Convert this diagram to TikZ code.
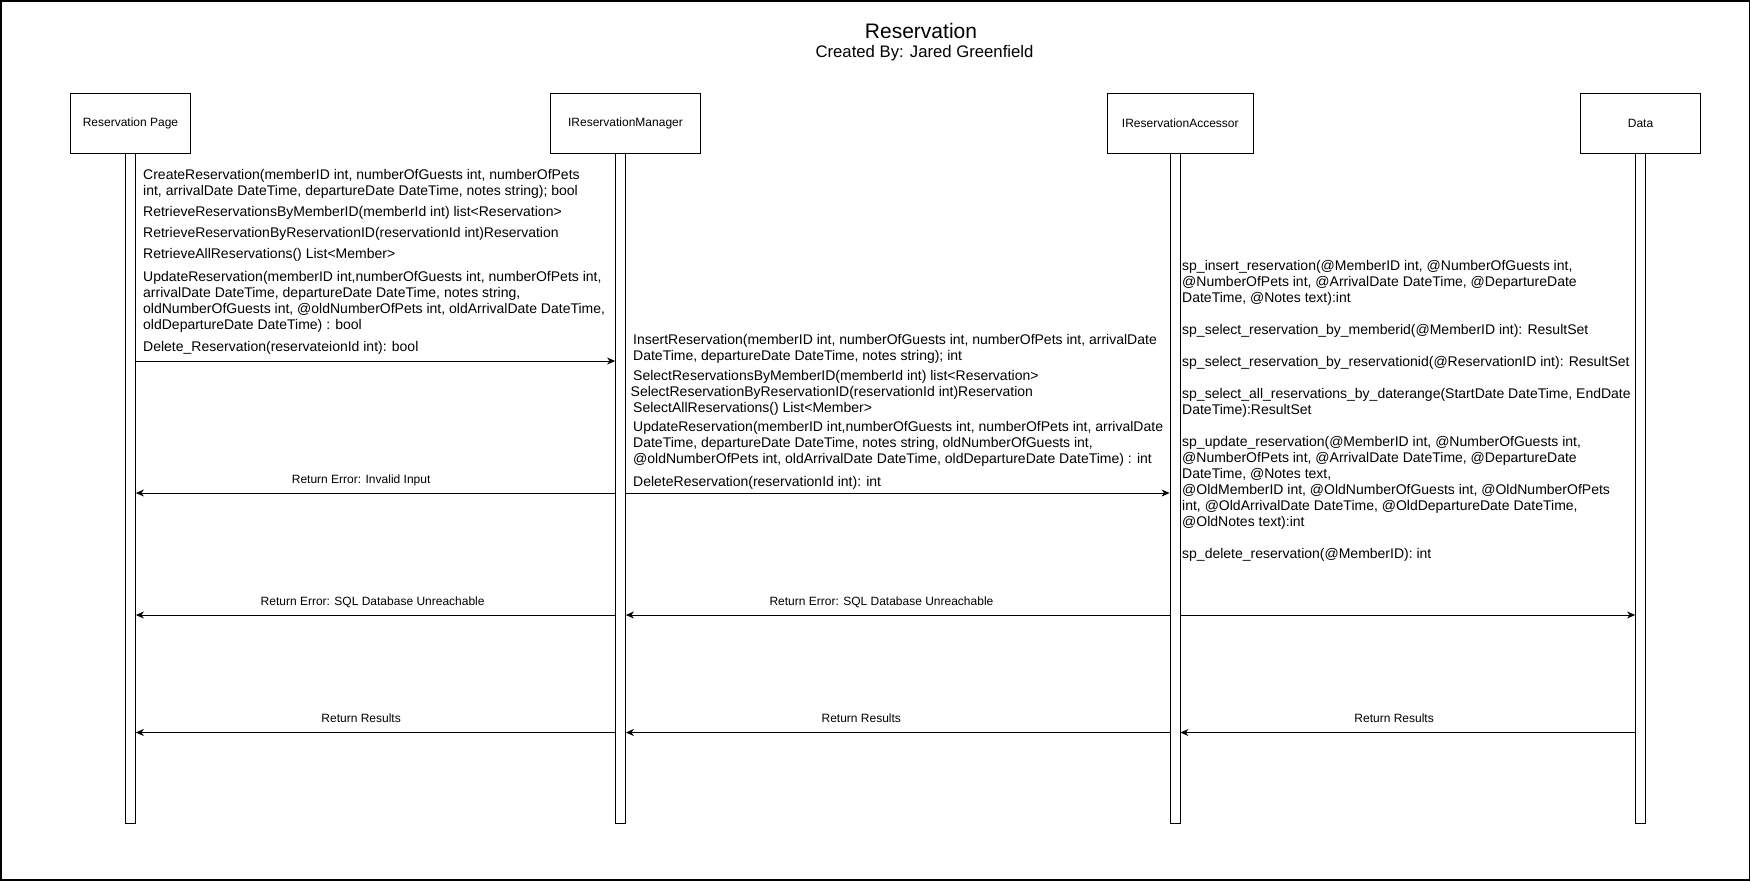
\documentclass[tikz,border=0pt]{standalone}
\usepackage{fontspec}
\setmainfont{Liberation Sans}
\usetikzlibrary{arrows.meta}

\tikzset{
  actor/.style={draw, line width=0.8pt, minimum width=120pt, minimum height=60pt, inner sep=0pt, font=\fontsize{12}{14}\selectfont},
  life/.style={draw, line width=0.8pt, minimum width=10pt, minimum height=670pt, inner sep=0pt, anchor=north},
  call/.style={anchor=west, align=left, inner sep=0pt, yshift=-1pt, font=\fontsize{14}{16}\selectfont},
  msg/.style={line width=0.8pt, -{Stealth[length=8pt,width=7pt,inset=2.5pt]}},
  ret/.style={pos=0.53, anchor=base, yshift=10pt, inner sep=0pt, font=\fontsize{12}{14}\selectfont}
}

\begin{document}
\begin{tikzpicture}[x=1pt,y=-1pt]
            \useasboundingbox (0,0) rectangle (1751,881);
            \draw[line width=1.5pt] (0.75,0.75) rectangle (1749.5,880);

            % Title
            \node (title) at (921,31) {\fontsize{21}{25}\selectfont Reservation};
            \node (author) at (924.5,53) {\fontsize{16.7}{19}\selectfont Created By: Jared Greenfield};

            % Actor boxes
            \node[actor] (page) at (130.5,123.3) {Reservation Page};
            \node[actor, minimum width=150pt] (man) at (625.5,123.3) {IReservationManager};
            \node[actor, minimum width=146pt] (acc) at (1180.3,123.3) {IReservationAccessor};
            \node[actor] (data) at (1640.5,123.3) {Data};

            % Lifelines
            \node[life] (pagel) at (130.5,153.3) {};
            \node[life] (manl) at (620.5,153.3) {};
            \node[life] (accl) at (1175,153.3) {};
            \node[life] (datal) at (1640.5,153.3) {};

            % Reservation Page calls
            \node[call] (create) at (143,183) {CreateReservation(memberID int, numberOfGuests int, numberOfPets\\int, arrivalDate DateTime, departureDate DateTime, notes string); bool};
            \node[call] (bymember) at (143,212) {RetrieveReservationsByMemberID(memberId int) list<Reservation>};
            \node[call] (byres) at (143,233) {RetrieveReservationByReservationID(reservationId int)Reservation};
            \node[call] (all) at (143,254) {RetrieveAllReservations() List<Member>};
            \node[call] (update) at (143,301) {UpdateReservation(memberID int,numberOfGuests int, numberOfPets int,\\arrivalDate DateTime, departureDate DateTime, notes string,\\oldNumberOfGuests int, @oldNumberOfPets int, oldArrivalDate DateTime,\\oldDepartureDate DateTime) : bool};
            \node[call] (delete) at (143,347) {Delete\_Reservation(reservateionId int): bool};

            % IReservationManager calls
            \node[call] (minsert) at (633,347.5) {InsertReservation(memberID int, numberOfGuests int, numberOfPets int, arrivalDate\\DateTime, departureDate DateTime, notes string); int};
            \node[call] (mbymember) at (633,376) {SelectReservationsByMemberID(memberId int) list<Reservation>};
            \node[call] (mbyres) at (630.5,392) {SelectReservationByReservationID(reservationId int)Reservation};
            \node[call] (mall) at (633,408) {SelectAllReservations() List<Member>};
            \node[call] (mupdate) at (633,442.5) {UpdateReservation(memberID int,numberOfGuests int, numberOfPets int, arrivalDate\\DateTime, departureDate DateTime, notes string, oldNumberOfGuests int,\\@oldNumberOfPets int, oldArrivalDate DateTime, oldDepartureDate DateTime) : int};
            \node[call] (mdelete) at (633,481.5) {DeleteReservation(reservationId int): int};

            % IReservationAccessor procedures
            \node[call] (spinsert) at (1182,282) {sp\_insert\_reservation(@MemberID int, @NumberOfGuests int,\\@NumberOfPets int, @ArrivalDate DateTime, @DepartureDate\\DateTime, @Notes text):int};
            \node[call] (spmember) at (1182,330) {sp\_select\_reservation\_by\_memberid(@MemberID int): ResultSet};
            \node[call] (spres) at (1182,362) {sp\_select\_reservation\_by\_reservationid(@ReservationID int): ResultSet};
            \node[call] (sprange) at (1182,402) {sp\_select\_all\_reservations\_by\_daterange(StartDate DateTime, EndDate\\DateTime):ResultSet};
            \node[call] (spupdate) at (1182,482) {sp\_update\_reservation(@MemberID int, @NumberOfGuests int,\\@NumberOfPets int, @ArrivalDate DateTime, @DepartureDate\\DateTime, @Notes text,\\@OldMemberID int, @OldNumberOfGuests int, @OldNumberOfPets\\int, @OldArrivalDate DateTime, @OldDepartureDate DateTime,\\@OldNotes text):int};
            \node[call] (spdelete) at (1182,554) {sp\_delete\_reservation(@MemberID): int};

            % Message rows
            \coordinate (r1) at (0,361);
            \coordinate (r2) at (0,493);
            \coordinate (r3) at (0,615);
            \coordinate (r4) at (0,732.5);

            \draw[msg] (pagel.east |- r1) -- (manl.west |- r1);

            \draw[msg] (manl.west |- r2) -- node[ret] {Return Error: Invalid Input} (pagel.east |- r2);
            \draw[msg] (manl.east |- r2) -- (accl.west |- r2);

            \draw[msg] (manl.west |- r3) -- node[ret, pos=0.506] {Return Error: SQL Database Unreachable} (pagel.east |- r3);
            \draw[msg] (accl.west |- r3) -- node[ret] {Return Error: SQL Database Unreachable} (manl.east |- r3);
            \draw[msg] (accl.east |- r3) -- (datal.west |- r3);

            \draw[msg] (manl.west |- r4) -- node[ret] {Return Results} (pagel.east |- r4);
            \draw[msg] (accl.west |- r4) -- node[ret, pos=0.567] {Return Results} (manl.east |- r4);
            \draw[msg] (datal.west |- r4) -- node[ret] {Return Results} (accl.east |- r4);
        \end{tikzpicture}
\end{document}
